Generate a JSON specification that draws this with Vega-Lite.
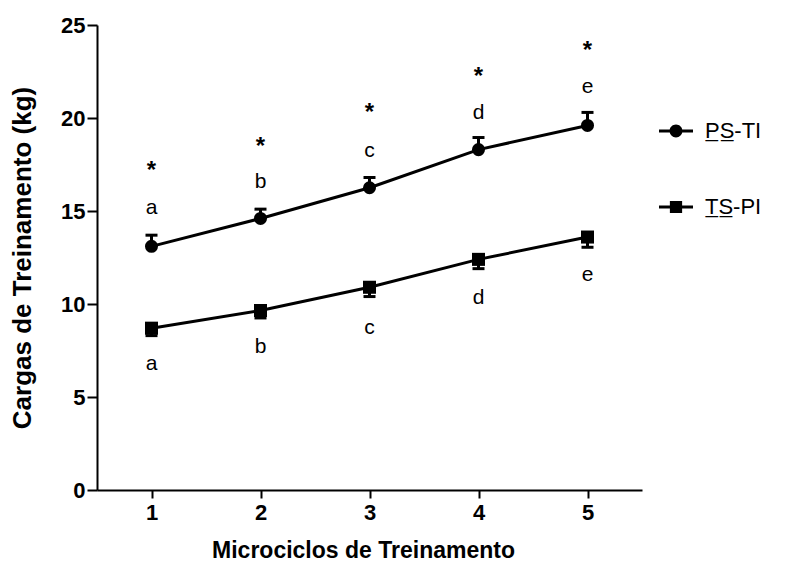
{
  "$schema": "https://vega.github.io/schema/vega-lite/v6.json",
  "autosize": "none",
  "width": 545,
  "height": 465,
  "padding": {"left": 97, "top": 25, "right": 144, "bottom": 73},
  "background": "white",
  "config": {
    "view": {"stroke": null},
    "font": "Liberation Sans",
    "axis": {
      "grid": false,
      "domainColor": "black",
      "domainWidth": 2,
      "tickColor": "black",
      "tickWidth": 2,
      "labelFont": "Liberation Sans",
      "labelFontWeight": "bold",
      "labelFontSize": 22,
      "labelColor": "black",
      "titleFont": "Liberation Sans",
      "titleFontWeight": "bold",
      "titleColor": "black"
    },
    "legend": {"symbolOpacity": 1}
  },
  "resolve": {"scale": {"shape": "independent"}, "legend": {"shape": "independent"}},
  "datasets": {
    "means": [
      {"micro": 1, "series": "PS-TI", "mean": 13.1, "lo": 13.1, "hi": 13.7, "cap": 13.7},
      {"micro": 2, "series": "PS-TI", "mean": 14.6, "lo": 14.6, "hi": 15.1, "cap": 15.1},
      {"micro": 3, "series": "PS-TI", "mean": 16.25, "lo": 16.25, "hi": 16.8, "cap": 16.8},
      {"micro": 4, "series": "PS-TI", "mean": 18.3, "lo": 18.3, "hi": 18.95, "cap": 18.95},
      {"micro": 5, "series": "PS-TI", "mean": 19.6, "lo": 19.6, "hi": 20.3, "cap": 20.3},
      {"micro": 1, "series": "TS-PI", "mean": 8.7, "lo": 8.3, "hi": 8.7, "cap": 8.3},
      {"micro": 2, "series": "TS-PI", "mean": 9.65, "lo": 9.25, "hi": 9.65, "cap": 9.25},
      {"micro": 3, "series": "TS-PI", "mean": 10.9, "lo": 10.4, "hi": 10.9, "cap": 10.4},
      {"micro": 4, "series": "TS-PI", "mean": 12.4, "lo": 11.9, "hi": 12.4, "cap": 11.9},
      {"micro": 5, "series": "TS-PI", "mean": 13.6, "lo": 13.05, "hi": 13.6, "cap": 13.05}
    ],
    "letters": [
      {"micro": 1, "y": 15.15, "label": "a"},
      {"micro": 2, "y": 16.55, "label": "b"},
      {"micro": 3, "y": 18.2, "label": "c"},
      {"micro": 4, "y": 20.25, "label": "d"},
      {"micro": 5, "y": 21.65, "label": "e"},
      {"micro": 1, "y": 6.75, "label": "a"},
      {"micro": 2, "y": 7.7, "label": "b"},
      {"micro": 3, "y": 8.7, "label": "c"},
      {"micro": 4, "y": 10.3, "label": "d"},
      {"micro": 5, "y": 11.55, "label": "e"}
    ],
    "stars": [
      {"micro": 1, "y": 17.4, "label": "*"},
      {"micro": 2, "y": 18.7, "label": "*"},
      {"micro": 3, "y": 20.55, "label": "*"},
      {"micro": 4, "y": 22.45, "label": "*"},
      {"micro": 5, "y": 23.85, "label": "*"}
    ]
  },
  "layer": [
    {
      "data": {"name": "means"},
      "mark": {"type": "line", "color": "black", "strokeWidth": 3},
      "encoding": {
        "x": {
          "field": "micro", "type": "quantitative",
          "scale": {"domain": [0.5, 5.5], "nice": false, "zero": false},
          "axis": {"values": [1, 2, 3, 4, 5], "format": "d", "title": "Microciclos de Treinamento", "tickSize": 8, "labelPadding": 4, "titleFontSize": 23, "titlePadding": 16, "titleX": 266}
        },
        "y": {
          "field": "mean", "type": "quantitative",
          "scale": {"domain": [0, 25], "nice": false},
          "axis": {"values": [0, 5, 10, 15, 20, 25], "title": "Cargas de Treinamento (kg)", "tickSize": 10, "labelPadding": 2, "titleFontSize": 26, "titlePadding": 25}
        },
        "detail": {"field": "series"}
      }
    },
    {
      "data": {"name": "means"},
      "mark": {"type": "rule", "color": "black", "strokeWidth": 3},
      "encoding": {
        "x": {"field": "micro", "type": "quantitative"},
        "y": {"field": "lo", "type": "quantitative"},
        "y2": {"field": "hi"}
      }
    },
    {
      "data": {"name": "means"},
      "mark": {"type": "tick", "orient": "horizontal", "color": "black", "size": 12, "thickness": 3, "opacity": 1},
      "encoding": {
        "x": {"field": "micro", "type": "quantitative"},
        "y": {"field": "cap", "type": "quantitative"}
      }
    },
    {
      "data": {"name": "means"},
      "mark": {"type": "point", "filled": true, "color": "black", "opacity": 1, "size": 170},
      "encoding": {
        "x": {"field": "micro", "type": "quantitative"},
        "y": {"field": "mean", "type": "quantitative"},
        "shape": {
          "field": "series", "type": "nominal",
          "scale": {"domain": ["PS-TI", "TS-PI"], "range": ["circle", "square"]},
          "legend": null
        }
      }
    },
    {
      "data": {"name": "means"},
      "mark": {"type": "point", "filled": true, "color": "black", "opacity": 0, "size": 10},
      "encoding": {
        "x": {"field": "micro", "type": "quantitative"},
        "y": {"field": "mean", "type": "quantitative"},
        "shape": {
          "field": "series", "type": "nominal",
          "scale": {
            "domain": ["PS-TI", "TS-PI"],
            "range": [
              "M-1,-0.09H-0.3V0.09H-1ZM0.3,-0.09H1V0.09H0.3ZM0.38,0A0.38,0.38 0 1,1 -0.38,0A0.38,0.38 0 1,1 0.38,0Z",
              "M-1,-0.09H-0.3V0.09H-1ZM0.3,-0.09H1V0.09H0.3ZM-0.36,-0.36H0.36V0.36H-0.36Z"
            ]
          },
          "legend": {
            "orient": "none",
            "legendX": 561,
            "legendY": 88,
            "title": null,
            "symbolSize": 1156,
            "symbolFillColor": "black",
            "symbolOpacity": 1,
            "labelFont": "Liberation Sans",
            "labelFontSize": 22,
            "labelColor": "black",
            "labelOffset": 11,
            "rowPadding": 47,
            "labelExpr": "datum.value === 'PS-TI' ? 'P\u0332S\u0332-TI' : 'T\u0332S\u0332-PI'"
          }
        }
      }
    },
    {
      "data": {"name": "letters"},
      "mark": {"type": "text", "font": "Liberation Sans", "fontSize": 21, "color": "black", "baseline": "middle", "align": "center"},
      "encoding": {
        "x": {"field": "micro", "type": "quantitative"},
        "y": {"field": "y", "type": "quantitative"},
        "text": {"field": "label"}
      }
    },
    {
      "data": {"name": "stars"},
      "mark": {"type": "text", "font": "Liberation Sans", "fontSize": 24, "fontWeight": "bold", "color": "black", "baseline": "middle", "align": "center", "dy": 5},
      "encoding": {
        "x": {"field": "micro", "type": "quantitative"},
        "y": {"field": "y", "type": "quantitative"},
        "text": {"field": "label"}
      }
    }
  ]
}
